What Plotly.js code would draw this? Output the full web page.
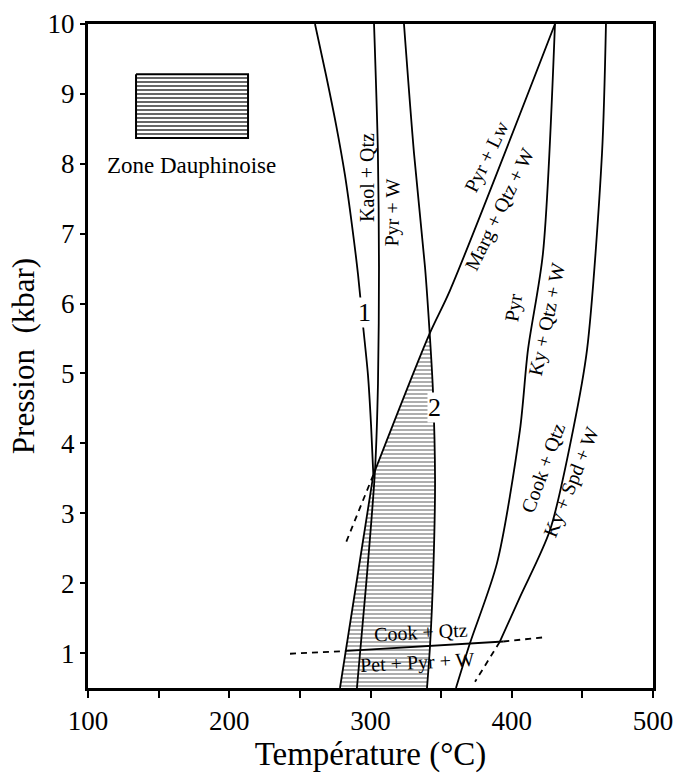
<!DOCTYPE html>
<html>
<head>
<meta charset="utf-8">
<script src="https://cdn.plot.ly/plotly-3.0.1.min.js"></script>
<style>html,body{margin:0;padding:0;background:#fff}</style>
</head>
<body>
<div id="chart" style="width:676px;height:776px"></div>
<script>
// Curve 1 (Kaol + Qtz = Pyr + W), upper and lower branch
var curveA_T = [260.7, 268.5, 275.6, 281.9, 286.9, 291.2, 294.7, 298.2, 300.4, 302.0];
var curveA_P = [10.0, 9.27, 8.56, 7.84, 7.12, 6.41, 5.69, 4.98, 4.26, 3.55];
var curveAlow_T = [302.0, 290.5, 278.4];
var curveAlow_P = [3.55, 2.05, 0.5];
// near-vertical curve
var curveB_T = [302.5, 305.2, 306.0, 305.3, 303.2, 297.0, 290.4];
var curveB_P = [10.0, 8.2, 6.52, 4.86, 3.62, 2.0, 0.5];
// Curve 2
var curveC_T = [323.7, 330.8, 338.6, 342.1, 344.2, 345.7, 344.5, 342.1, 340.0];
var curveC_P = [10.0, 8.15, 6.52, 5.51, 4.76, 3.48, 2.2, 1.09, 0.5];
// Marg + Qtz + W = Pyr + Lw
var diag_T = [302.0, 341.4, 356.3, 430.6];
var diag_P = [3.55, 5.55, 6.19, 10.0];
var diagDash_T = [302.0, 282.0];
var diagDash_P = [3.55, 2.55];
// Pyr = Ky + Qtz + W
var curveD_T = [430.6, 422.1, 411.5, 405.8, 389.6, 370.4, 360.5];
var curveD_P = [10.0, 6.72, 5.34, 4.19, 2.29, 1.14, 0.5];
// Cook + Qtz = Ky + Spd + W
var curveE_T = [466.7, 463.9, 453.3, 443.4, 427.1, 405.8, 391.5];
var curveE_P = [10.0, 8.15, 5.34, 4.19, 2.76, 1.80, 1.16];
var curveEDash_T = [391.5, 374.0];
var curveEDash_P = [1.16, 0.59];
// Cook + Qtz = Pet + Pyr + W
var curveF_T = [283.4, 394.0];
var curveF_P = [1.03, 1.165];
var curveFDashL_T = [243.0, 283.4];
var curveFDashL_P = [0.99, 1.03];
var curveFDashR_T = [394.0, 425.0];
var curveFDashR_P = [1.165, 1.23];
// legend box (Zone Dauphinoise)
var legendBox_T = [134.0, 213.3, 213.3, 134.0, 134.0];
var legendBox_P = [9.28, 9.28, 8.37, 8.37, 9.28];

// labels
var labelText = ['Kaol + Qtz', 'Pyr + W', 'Pyr + Lw', 'Marg + Qtz + W', 'Pyr', 'Ky + Qtz + W',
                 'Cook + Qtz', 'Ky + Spd + W', 'Cook + Qtz', 'Pet + Pyr + W', 'Zone Dauphinoise'];
var labelT = [297.5, 315.7, 382.5, 391.7, 401.6, 425.0, 422.0, 442.6, 335.8, 333.6, 173.6];
var labelP = [7.81, 7.30, 8.10, 7.34, 5.94, 5.77, 3.65, 3.45, 1.30, 0.87, 7.97];
var labelAngle = [-90, -89, -64, -64, -81, -78, -70, -68, -3, -3, 0];
var numText = ['1', '2'];
var numT = [296.1, 345.0];
var numP = [5.87, 4.52];

var xTickVals = [100, 150, 200, 250, 300, 350, 400, 450, 500];
var xTickText = ['100', '', '200', '', '300', '', '400', '', '500'];
var yTickVals = [1, 2, 3, 4, 5, 6, 7, 8, 9, 10];

// shaded polygon: lower branch of curve 1 (up), diagonal (up), curve 2 (down)
function buildShade() {
  var t = [], p = [];
  for (var i = curveAlow_T.length - 1; i >= 0; i--) { t.push(curveAlow_T[i]); p.push(curveAlow_P[i]); }
  t.push(diag_T[1]); p.push(diag_P[1]);
  for (var k = 3; k < curveC_T.length; k++) { t.push(curveC_T[k]); p.push(curveC_P[k]); }
  t.push(t[0]); p.push(p[0]);
  return {t: t, p: p};
}
var shade = buildShade();

var serif = 'Liberation Serif, Times New Roman, serif';
function line(x, y, dash, shape) {
  return {x: x, y: y, mode: 'lines', type: 'scatter', hoverinfo: 'skip',
          line: {color: '#000', width: 1.8, dash: dash || 'solid', shape: shape || 'spline', smoothing: 0.8}};
}

var traces = [
  {x: shade.t, y: shade.p, type: 'scatter', mode: 'lines', fill: 'toself', hoverinfo: 'skip',
   line: {width: 0, color: 'rgba(0,0,0,0)'}, fillcolor: 'rgba(0,0,0,0)',
   fillpattern: {shape: '-', size: 4, solidity: 0.3, fgcolor: '#777', bgcolor: 'rgba(255,255,255,0)'}},
  {x: legendBox_T, y: legendBox_P, type: 'scatter', mode: 'lines', fill: 'toself', hoverinfo: 'skip',
   line: {width: 2, color: '#000'}, fillcolor: 'rgba(0,0,0,0)',
   fillpattern: {shape: '-', size: 4, solidity: 0.3, fgcolor: '#000', bgcolor: 'rgba(255,255,255,0)'}},
  line(curveA_T, curveA_P),
  line(curveAlow_T, curveAlow_P, 'solid', 'linear'),
  line(curveB_T, curveB_P),
  line(curveC_T, curveC_P),
  line(diag_T, diag_P),
  line(diagDash_T, diagDash_P, '6px,5px', 'linear'),
  line(curveD_T, curveD_P),
  line(curveE_T, curveE_P),
  line(curveEDash_T, curveEDash_P, '6px,5px', 'linear'),
  line(curveF_T, curveF_P, 'solid', 'linear'),
  line(curveFDashL_T, curveFDashL_P, '6px,5px', 'linear'),
  line(curveFDashR_T, curveFDashR_P, '6px,5px', 'linear')
];

var annotations = [];
for (var i = 0; i < labelText.length; i++) {
  annotations.push({x: labelT[i], y: labelP[i], xref: 'x', yref: 'y', text: labelText[i],
    showarrow: false, textangle: labelAngle[i], font: {family: serif, size: i === 10 ? 23 : 20, color: '#000'}});
}
for (var n = 0; n < numText.length; n++) {
  annotations.push({x: numT[n], y: numP[n], xref: 'x', yref: 'y', text: numText[n], showarrow: false,
    bgcolor: '#fff', borderpad: 0, font: {family: serif, size: 26, color: '#000'}});
}

var layout = {
  width: 676, height: 776,
  margin: {l: 88, r: 23, t: 24, b: 88},
  paper_bgcolor: '#fff', plot_bgcolor: '#fff',
  showlegend: false,
  font: {family: serif, color: '#000'},
  xaxis: {range: [100, 500], tickvals: xTickVals, ticktext: xTickText, ticks: 'outside', ticklen: 7,
          tickwidth: 2, tickcolor: '#000', showline: true, linewidth: 3, linecolor: '#000', mirror: true,
          showgrid: false, zeroline: false, tickfont: {family: serif, size: 27},
          title: {text: 'Température (°C)', font: {family: serif, size: 33}, standoff: 6}},
  yaxis: {range: [0.5, 10], tickvals: yTickVals, ticks: 'outside', ticklen: 5,
          tickwidth: 2, tickcolor: '#000', showline: true, linewidth: 3, linecolor: '#000', mirror: true,
          showgrid: false, zeroline: false, tickfont: {family: serif, size: 27},
          title: {text: 'Pression  (kbar)', font: {family: serif, size: 31}, standoff: 4}},
  annotations: annotations
};

Plotly.newPlot('chart', traces, layout, {staticPlot: true, displayModeBar: false});
</script>
</body>
</html>
